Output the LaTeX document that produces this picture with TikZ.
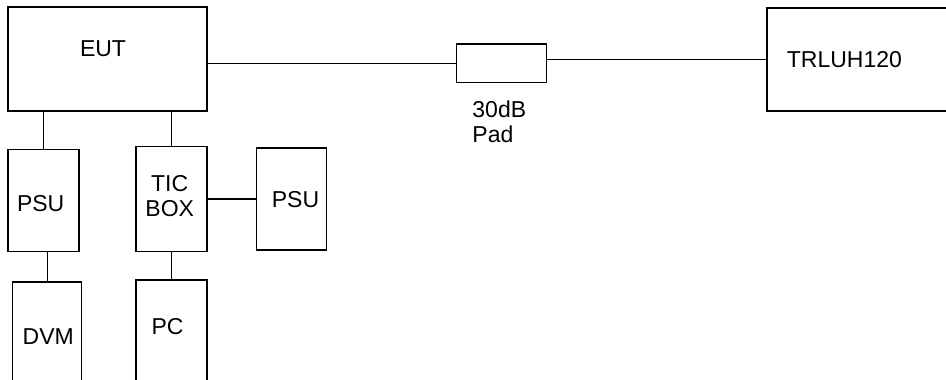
\documentclass[tikz,border=0pt]{standalone}
\usepackage{fontspec}
\setmainfont{Liberation Sans}
\usepackage{xcolor}
\usepackage{tikz}
\usetikzlibrary{positioning}
\tikzset{
  unitbox/.style={
    draw=black,
    fill=white,
    line width=1.5pt,
    inner sep=0pt
  },
  unittext/.style={
    font=\fontsize{23}{25}\selectfont,
    text=black,
    align=center,
    inner sep=0pt
  },
  wire/.style={
    line width=1.1pt,
    draw=black
  }
}
\begin{document}
\begin{tikzpicture}[x=1pt, y=-1pt, node distance=30pt and 48pt]
  \useasboundingbox (0,0) rectangle (946,380);
  \clip (0,0) rectangle (946,380);

  \node[unitbox, minimum width=199pt, minimum height=104pt,
        label={[unittext, xshift=-4.5pt, yshift=10.7pt]center:EUT}]
    (eut) at (107.5,59) {};

  \node[unitbox, minimum width=71pt, minimum height=102pt,
        below=37pt of eut.south west, anchor=north west,
        label={[unittext, xshift=-2.8pt, yshift=-3pt]center:PSU}] (psu) {};
  \node[unitbox, minimum width=71pt, minimum height=105pt,
        below=34pt of eut.south east, anchor=north east,
        label={[unittext, xshift=-1.8pt, yshift=2.5pt]center:TIC\\BOX}] (tic) {};
  \node[unitbox, minimum width=70pt, minimum height=102pt,
        right=of tic,
        label={[unittext, xshift=4pt, yshift=-1pt]center:PSU}] (ticpsu) {};

  \node[unitbox, minimum width=69pt, minimum height=120pt,
        below=29pt of psu, xshift=3.7pt,
        label={[unittext, xshift=1.1pt, yshift=5.7pt]center:DVM}] (dvm) {};
  \node[unitbox, minimum width=70.6pt, minimum height=120pt,
        below=27pt of tic,
        label={[unittext, xshift=-4pt, yshift=13.6pt]center:PC}] (pc) {};

  \node[unitbox, minimum width=90pt, minimum height=38.7pt] (pad) at (501.7,63.3) {};
  \node[unittext, align=left, below right=17pt and 16.3pt of pad.south west]
    (padtext) {30dB\\Pad};

  \node[unitbox, minimum width=260pt, minimum height=103pt, anchor=north west,
        label={[unittext, anchor=west, xshift=20.7pt]west:TRLUH120}]
    (trl) at (766,7) {};

  \draw[wire] (pad.west) -- (pad.west -| eut.east);
  \draw[wire] (pad.east |- trl.west) -- (trl.west);
  \draw[wire] (psu.north) -- (psu.north |- eut.south);
  \draw[wire] (tic.north) -- (tic.north |- eut.south);
  \draw[wire] (tic.east) -- (ticpsu.west);
  \draw[wire] (dvm.north) -- (dvm.north |- psu.south);
  \draw[wire] (pc.north) -- (pc.north |- tic.south);
\end{tikzpicture}
\end{document}
